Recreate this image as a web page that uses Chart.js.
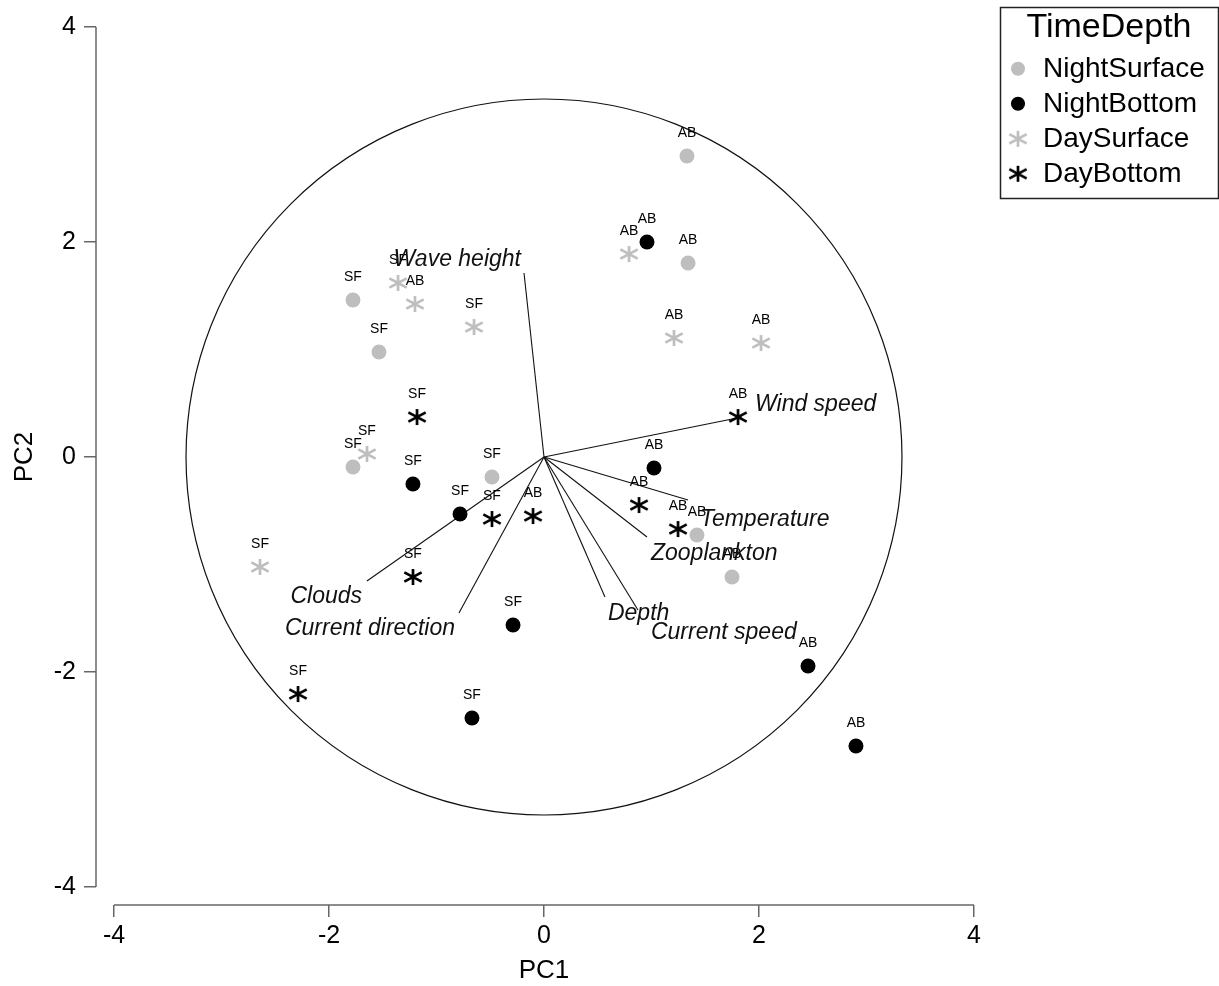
<!DOCTYPE html>
<html>
<head>
<meta charset="utf-8">
<script src="https://cdn.jsdelivr.net/npm/chart.js@4.4.1/dist/chart.umd.min.js"></script>
<style>
html,body{margin:0;padding:0;background:#ffffff;}
canvas{display:block;}
</style>
</head>
<body>
<canvas id="chart" width="1219" height="986"></canvas>
<script>
// ---------------- data ----------------
const seriesNames = ['NightSurface', 'NightBottom', 'DaySurface', 'DayBottom'];

const nightSurfaceX = [1.330, 1.340, -1.777, -1.535, -1.777, -0.484, 1.423, 1.749];
const nightSurfaceY = [2.800, 1.805, 1.460, 0.977, -0.093, -0.186, -0.726, -1.116];
const nightSurfaceSite = ['AB', 'AB', 'SF', 'SF', 'SF', 'SF', 'AB', 'AB'];

const nightBottomX = [0.958, 1.023, -1.219, -0.781, -0.288, -0.670, 2.456, 2.902];
const nightBottomY = [2.000, -0.102, -0.251, -0.530, -1.563, -2.428, -1.944, -2.688];
const nightBottomSite = ['AB', 'AB', 'SF', 'SF', 'SF', 'SF', 'AB', 'AB'];

const daySurfaceX = [0.791, -1.358, -1.200, -0.651, 1.209, 2.019, -1.647, -2.642];
const daySurfaceY = [1.888, 1.619, 1.423, 1.209, 1.107, 1.060, 0.028, -1.023];
const daySurfaceSite = ['AB', 'SF', 'AB', 'SF', 'AB', 'AB', 'SF', 'SF'];

const dayBottomX = [1.805, -1.181, 0.884, 1.247, -0.484, -0.102, -1.219, -2.288];
const dayBottomY = [0.372, 0.372, -0.447, -0.670, -0.577, -0.549, -1.116, -2.205];
const dayBottomSite = ['AB', 'SF', 'AB', 'AB', 'SF', 'AB', 'SF', 'SF'];

// loading vectors (arrow ends) and their text anchors
const vectorNames = ['Wave height', 'Wind speed', 'Temperature', 'Zooplankton', 'Depth', 'Current speed', 'Clouds', 'Current direction'];
const vectorX = [-0.186, 1.842, 1.340, 0.958, 0.567, 0.874, -1.647, -0.791];
const vectorY = [1.712, 0.372, -0.400, -0.744, -1.302, -1.423, -1.153, -1.451];
const vectorLabelX = [-0.214, 1.963, 1.451, 0.995, 0.595, 0.995, -1.693, -0.828];
const vectorLabelY = [1.835, 0.490, -0.580, -0.895, -1.455, -1.630, -1.295, -1.595];
const vectorLabelAlign = ['right', 'left', 'left', 'left', 'left', 'left', 'right', 'right'];

const circleRadius = 3.33;

const tickValues = [-4, -2, 0, 2, 4];
const tickLabels = ['-4', '-2', '0', '2', '4'];
const axisMin = -4.1674;
const axisMax = 4.1674;

// ---------------- styles ----------------
const FONT = "'Liberation Sans', Arial, Helvetica, sans-serif";
const GRAY = '#BEBEBE';
const BLACK = '#000000';
const AXIS_COLOR = '#666666';

function makeAsterisk(color) {
  const c = document.createElement('canvas');
  c.width = 24; c.height = 24;
  const g = c.getContext('2d');
  g.strokeStyle = color;
  g.lineWidth = 2.7;
  const cx = 12, cy = 12, a = 28 * Math.PI / 180, b = 9.8;
  g.beginPath();
  g.moveTo(cx, cy - 8); g.lineTo(cx, cy + 8);
  g.moveTo(cx - b * Math.cos(a), cy - b * Math.sin(a)); g.lineTo(cx + b * Math.cos(a), cy + b * Math.sin(a));
  g.moveTo(cx - b * Math.cos(a), cy + b * Math.sin(a)); g.lineTo(cx + b * Math.cos(a), cy - b * Math.sin(a));
  g.stroke();
  return c;
}

const seriesX = [nightSurfaceX, nightBottomX, daySurfaceX, dayBottomX];
const seriesY = [nightSurfaceY, nightBottomY, daySurfaceY, dayBottomY];
const seriesSite = [nightSurfaceSite, nightBottomSite, daySurfaceSite, dayBottomSite];
const seriesColor = [GRAY, BLACK, GRAY, BLACK];
const seriesStar = [false, false, true, true];

const pointDatasets = seriesNames.map((name, i) => ({
  label: name,
  data: seriesX[i].map((x, j) => ({x: x, y: seriesY[i][j]})),
  siteLabels: seriesSite[i],
  pointStyle: seriesStar[i] ? makeAsterisk(seriesColor[i]) : 'circle',
  pointRadius: 7.5,
  backgroundColor: seriesColor[i],
  borderColor: seriesColor[i],
  borderWidth: 0,
  showLine: false,
  order: 1
}));

const vectorDatasets = vectorNames.map((name, i) => ({
  label: name,
  isVector: true,
  data: [{x: 0, y: 0}, {x: vectorX[i], y: vectorY[i]}],
  showLine: true,
  pointRadius: 0,
  borderColor: '#111111',
  backgroundColor: '#111111',
  borderWidth: 1.1,
  tension: 0,
  order: 2
}));

const biplotPlugin = {
  id: 'biplotDecor',
  afterLayout(chart) {
    const lg = chart.legend;
    if (!lg) return;
    lg.left = 1000; lg.top = 7; lg.width = 218; lg.height = 191;
    lg.right = lg.left + lg.width; lg.bottom = lg.top + lg.height;
  },
  beforeDatasetsDraw(chart) {
    const ctx = chart.ctx, xs = chart.scales.x, ys = chart.scales.y;
    const cx = xs.getPixelForValue(0), cy = ys.getPixelForValue(0);
    const r = xs.getPixelForValue(circleRadius) - cx;
    ctx.save();
    ctx.strokeStyle = '#111111';
    ctx.lineWidth = 1.2;
    ctx.beginPath();
    ctx.arc(cx, cy, r, 0, Math.PI * 2);
    ctx.stroke();
    ctx.restore();
  },
  afterDatasetsDraw(chart) {
    const ctx = chart.ctx, xs = chart.scales.x, ys = chart.scales.y;
    ctx.save();
    // sample labels above points
    ctx.fillStyle = BLACK;
    ctx.font = '14px ' + FONT;
    ctx.textAlign = 'center';
    ctx.textBaseline = 'middle';
    chart.data.datasets.forEach((ds, di) => {
      if (ds.isVector) return;
      const meta = chart.getDatasetMeta(di);
      meta.data.forEach((el, j) => {
        ctx.fillText(ds.siteLabels[j], el.x, el.y - 23);
      });
    });
    // vector labels
    ctx.font = 'italic 23px ' + FONT;
    ctx.fillStyle = '#111111';
    vectorNames.forEach((name, i) => {
      ctx.textAlign = vectorLabelAlign[i];
      ctx.fillText(name, xs.getPixelForValue(vectorLabelX[i]), ys.getPixelForValue(vectorLabelY[i]));
    });
    ctx.restore();
  },
  afterDraw(chart) {
    const ctx = chart.ctx, xs = chart.scales.x, ys = chart.scales.y;
    ctx.save();
    ctx.strokeStyle = AXIS_COLOR;
    ctx.lineWidth = 1.5;
    // detached axis lines spanning first..last tick
    const x0 = xs.getPixelForValue(tickValues[0]), x1 = xs.getPixelForValue(tickValues[tickValues.length - 1]);
    ctx.beginPath(); ctx.moveTo(x0, xs.top); ctx.lineTo(x1, xs.top); ctx.stroke();
    const y0 = ys.getPixelForValue(tickValues[0]), y1 = ys.getPixelForValue(tickValues[tickValues.length - 1]);
    ctx.beginPath(); ctx.moveTo(ys.right, y0); ctx.lineTo(ys.right, y1); ctx.stroke();
    // legend frame
    const lg = chart.legend;
    ctx.strokeStyle = '#222222';
    ctx.lineWidth = 1.5;
    ctx.strokeRect(lg.left + 0.5, lg.top + 0.5, lg.width, lg.height);
    ctx.restore();
  }
};

function tickLabel(value) {
  const k = tickValues.indexOf(value);
  return k >= 0 ? tickLabels[k] : '';
}

function noScalePadding(scale) {
  scale.paddingTop = 0; scale.paddingBottom = 0;
  scale.paddingLeft = 0; scale.paddingRight = 0;
}

new Chart(document.getElementById('chart'), {
  type: 'scatter',
  data: {datasets: pointDatasets.concat(vectorDatasets)},
  options: {
    responsive: false,
    animation: false,
    events: [],
    layout: {padding: {top: 9, right: 227, bottom: 0, left: 0}},
    scales: {
      x: {
        type: 'linear', position: 'bottom', min: axisMin, max: axisMax,
        afterBuildTicks(scale) { scale.ticks = tickValues.map(v => ({value: v})); },
        afterFit(scale) { scale.height = 81; noScalePadding(scale); },
        grid: {drawOnChartArea: false, drawTicks: true, tickLength: 12, color: AXIS_COLOR, lineWidth: 1.5},
        border: {display: false},
        ticks: {color: BLACK, font: {family: FONT, size: 25}, padding: 4, maxRotation: 0, autoSkip: false, callback: tickLabel},
        title: {display: true, text: 'PC1', color: BLACK, font: {family: FONT, size: 26}, padding: {top: 0, bottom: 0}}
      },
      y: {
        type: 'linear', position: 'left', min: axisMin, max: axisMax,
        afterBuildTicks(scale) { scale.ticks = tickValues.map(v => ({value: v})); },
        afterFit(scale) { scale.width = 96; noScalePadding(scale); },
        grid: {drawOnChartArea: false, drawTicks: true, tickLength: 12, color: AXIS_COLOR, lineWidth: 1.5},
        border: {display: false},
        ticks: {color: BLACK, font: {family: FONT, size: 25}, padding: 8, autoSkip: false, callback: tickLabel},
        title: {display: true, text: 'PC2', color: BLACK, font: {family: FONT, size: 26}, padding: {top: 9, bottom: 0}}
      }
    },
    plugins: {
      tooltip: {enabled: false},
      legend: {
        display: true,
        position: 'chartArea',
        align: 'start',
        labels: {
          usePointStyle: true,
          boxWidth: 22,
          boxHeight: 10,
          padding: 7,
          color: BLACK,
          font: {family: FONT, size: 28},
          filter: (item, data) => !data.datasets[item.datasetIndex].isVector
        },
        title: {display: true, text: 'TimeDepth', color: BLACK, font: {family: FONT, size: 34}, padding: {top: 4, bottom: -4}}
      }
    }
  },
  plugins: [biplotPlugin]
});
</script>
</body>
</html>
